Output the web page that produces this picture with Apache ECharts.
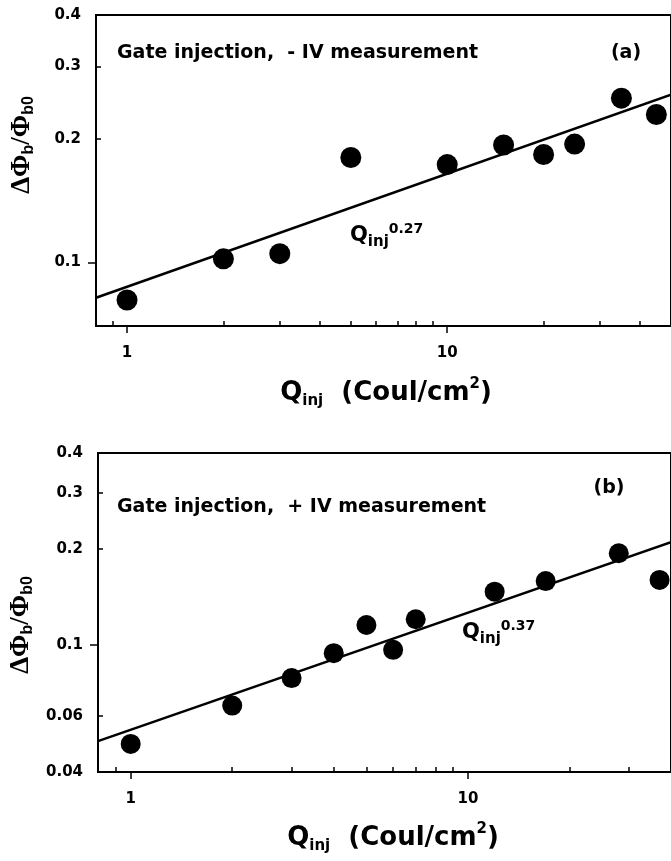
<!DOCTYPE html>
<html>
<head>
<meta charset="utf-8">
<script src="https://cdn.jsdelivr.net/npm/echarts@6/dist/echarts.min.js"></script>
<style>
html,body{margin:0;padding:0;background:#fff;}
#chart{width:671px;height:861px;}
</style>
</head>
<body>
<div id="chart"></div>
<script>
// Panel (a): gate injection, - IV measurement
const qA = [1, 2, 3, 5, 10, 15, 20, 25, 35, 45];
const yA = [0.081, 0.102, 0.105, 0.180, 0.173, 0.193, 0.183, 0.194, 0.251, 0.229];
const fitAx = [0.8, 50];
const fitAy = [0.082, 0.256];
// Panel (b): gate injection, + IV measurement
const qB = [1, 2, 3, 4, 5, 6, 7, 12, 17, 28, 37];
const yB = [0.049, 0.0646, 0.0788, 0.0943, 0.1156, 0.0966, 0.1205, 0.147, 0.1587, 0.194, 0.160];
const fitBx = [0.8, 40];
const fitBy = [0.050, 0.210];
// Tick values
const xLabels = [1, 10];
const xMinor = [0.9, 2, 3, 4, 5, 6, 7, 8, 9, 20, 30, 40];
const yLabelsA = [0.1, 0.2, 0.3, 0.4];
const yMajorA = [0.1];
const yMinorA = [0.2, 0.3];
const yLabelsB = [0.04, 0.06, 0.1, 0.2, 0.3, 0.4];
const yMajorB = [0.1];
const yMinorB = [0.06, 0.2, 0.3];

const FONT = 'DejaVu Sans';
const fmt = v => String(Math.round(v * 1000) / 1000);
const zip = (a, b) => a.map((v, i) => [v, b[i]]);

function xAxes(grid, min, max) {
  return [
    { type: 'log', logBase: 10, gridIndex: grid, position: 'bottom', min, max,
      axisLine: { show: false }, splitLine: { show: false },
      axisTick: { show: true, inside: false, length: 7, customValues: xLabels, lineStyle: { color: '#000', width: 1.5 } },
      axisLabel: { customValues: xLabels, margin: 20, color: '#000', fontFamily: FONT, fontWeight: 'bold', fontSize: 15, formatter: fmt } },
    { type: 'log', logBase: 10, gridIndex: grid, position: 'bottom', min, max,
      axisLine: { show: false }, splitLine: { show: false },
      axisTick: { show: true, inside: true, length: 5, customValues: xMinor, lineStyle: { color: '#000', width: 1.5 } },
      axisLabel: { show: false } }
  ];
}
function yAxes(grid, min, max, labels, major, minor) {
  return [
    { type: 'log', logBase: 10, gridIndex: grid, position: 'left', min, max,
      axisLine: { show: false }, splitLine: { show: false },
      axisTick: { show: true, inside: false, length: 8, customValues: major, lineStyle: { color: '#000', width: 1.5 } },
      axisLabel: { customValues: labels, margin: 15, color: '#000', fontFamily: FONT, fontWeight: 'bold', fontSize: 15, formatter: fmt } },
    { type: 'log', logBase: 10, gridIndex: grid, position: 'left', min, max,
      axisLine: { show: false }, splitLine: { show: false },
      axisTick: { show: true, inside: true, length: 5, customValues: minor, lineStyle: { color: '#000', width: 1.5 } },
      axisLabel: { show: false } }
  ];
}

const richQ = {
  q: { fontFamily: FONT, fontWeight: 'bold', fontSize: 21, lineHeight: 28, verticalAlign: 'middle', fill: '#000' },
  sub: { fontFamily: FONT, fontWeight: 'bold', fontSize: 15, lineHeight: 12, verticalAlign: 'bottom', fill: '#000' },
  sup: { fontFamily: FONT, fontWeight: 'bold', fontSize: 14, lineHeight: 12, verticalAlign: 'top', fill: '#000' }
};
const richX = {
  q: { fontFamily: FONT, fontWeight: 'bold', fontSize: 26, lineHeight: 32, verticalAlign: 'middle', fill: '#000' },
  sub: { fontFamily: FONT, fontWeight: 'bold', fontSize: 15, lineHeight: 12, verticalAlign: 'bottom', fill: '#000' },
  sup: { fontFamily: FONT, fontWeight: 'bold', fontSize: 15, lineHeight: 12, verticalAlign: 'top', fill: '#000' }
};
const richY = {
  m: { fontFamily: 'Liberation Serif', fontWeight: 'bold', fontSize: 27, lineHeight: 30, verticalAlign: 'middle', fill: '#000' },
  s: { fontFamily: 'Liberation Sans', fontWeight: 'bold', fontSize: 16, lineHeight: 12, verticalAlign: 'bottom', fill: '#000' }
};
const xTitle = '{q|Q}{sub|inj}{q|  (Coul/cm}{sup|2}{q|)}';
const yTitle = '{m|ΔΦ}{s|b}{m|/Φ}{s|b0}';

const chart = echarts.init(document.getElementById('chart'), null, { renderer: 'canvas' });
chart.setOption({
  backgroundColor: '#fff',
  animation: false,
  grid: [
    { left: 96, top: 15, width: 576, height: 311, show: true, borderColor: '#000', borderWidth: 2, backgroundColor: 'transparent' },
    { left: 98, top: 453, width: 574, height: 319, show: true, borderColor: '#000', borderWidth: 2, backgroundColor: 'transparent' }
  ],
  xAxis: [...xAxes(0, 0.8, 50), ...xAxes(1, 0.8, 40)],
  yAxis: [...yAxes(0, 0.07, 0.4, yLabelsA, yMajorA, yMinorA), ...yAxes(1, 0.04, 0.4, yLabelsB, yMajorB, yMinorB)],
  series: [
    { type: 'line', xAxisIndex: 0, yAxisIndex: 0, data: zip(fitAx, fitAy), showSymbol: false, symbol: 'none',
      lineStyle: { color: '#000', width: 2.5 }, z: 2 },
    { type: 'scatter', xAxisIndex: 0, yAxisIndex: 0, data: zip(qA, yA), symbol: 'circle', symbolSize: 21,
      itemStyle: { color: '#000', opacity: 1 }, z: 3 },
    { type: 'line', xAxisIndex: 2, yAxisIndex: 2, data: zip(fitBx, fitBy), showSymbol: false, symbol: 'none',
      lineStyle: { color: '#000', width: 2.5 }, z: 2 },
    { type: 'scatter', xAxisIndex: 2, yAxisIndex: 2, data: zip(qB, yB), symbol: 'circle', symbolSize: 20,
      itemStyle: { color: '#000', opacity: 1 }, z: 3 }
  ],
  graphic: [
    { type: 'text', x: 117, y: 53, style: { text: 'Gate injection,  - IV measurement', font: 'bold 19px "DejaVu Sans"', fill: '#000', align: 'left', verticalAlign: 'middle' } },
    { type: 'text', x: 626, y: 53, style: { text: '(a)', font: 'bold 19px "DejaVu Sans"', fill: '#000', align: 'center', verticalAlign: 'middle' } },
    { type: 'text', x: 350, y: 236, style: { text: '{q|Q}{sub|inj}{sup|0.27}', rich: richQ, align: 'left', verticalAlign: 'middle' } },
    { type: 'text', x: 386, y: 393, style: { text: xTitle, rich: richX, align: 'center', verticalAlign: 'middle' } },
    { type: 'text', x: 22, y: 145, rotation: Math.PI / 2, style: { text: yTitle, rich: richY, align: 'center', verticalAlign: 'middle' } },

    { type: 'text', x: 117, y: 507, style: { text: 'Gate injection,  + IV measurement', font: 'bold 19px "DejaVu Sans"', fill: '#000', align: 'left', verticalAlign: 'middle' } },
    { type: 'text', x: 609, y: 488, style: { text: '(b)', font: 'bold 19px "DejaVu Sans"', fill: '#000', align: 'center', verticalAlign: 'middle' } },
    { type: 'text', x: 462, y: 633, style: { text: '{q|Q}{sub|inj}{sup|0.37}', rich: richQ, align: 'left', verticalAlign: 'middle' } },
    { type: 'text', x: 393, y: 838, style: { text: xTitle, rich: richX, align: 'center', verticalAlign: 'middle' } },
    { type: 'text', x: 21, y: 625, rotation: Math.PI / 2, style: { text: yTitle, rich: richY, align: 'center', verticalAlign: 'middle' } }
  ]
});
</script>
</body>
</html>
